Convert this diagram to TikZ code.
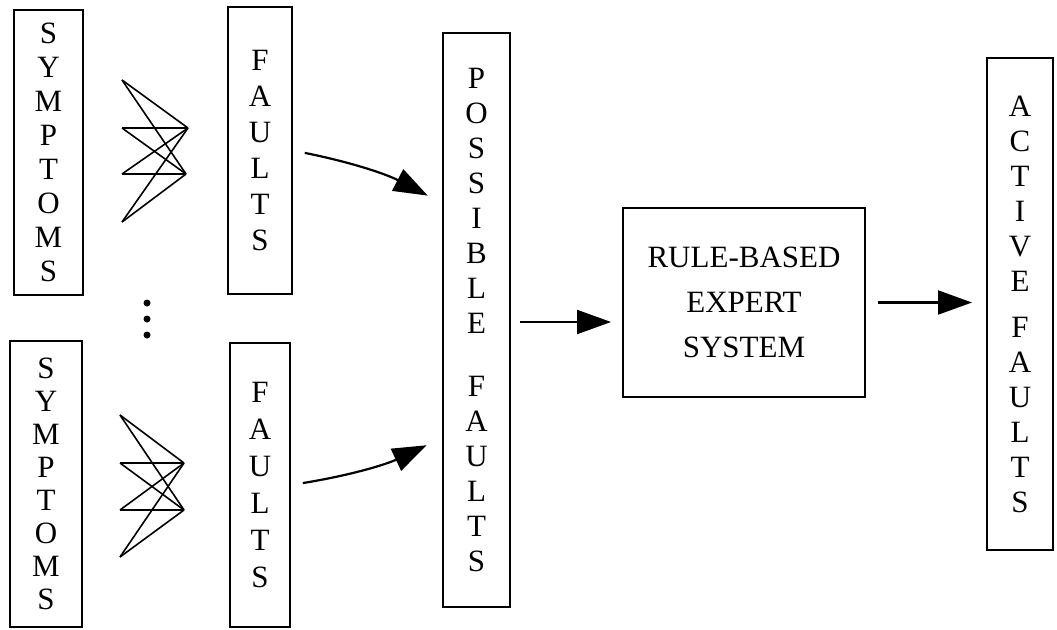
\documentclass[tikz,border=0pt]{standalone}
\usepackage{fontspec}
\setmainfont{Liberation Serif}
\usetikzlibrary{arrows.meta,calc}
\begin{document}
\begin{tikzpicture}[x=1pt,y=-1pt,
  box/.style={draw,line width=2pt,inner sep=0pt,align=center},
  vtxt/.style={font=\fontsize{31}{#1}\selectfont},
  web/.style={line width=1.6pt},
  arr/.style={line width=2.2pt,-{Triangle[length=34pt,width=24pt]}},
  dot/.style={circle,fill,inner sep=0pt,minimum size=7pt}]
\useasboundingbox (0,0) rectangle (1057,629);
% symptom boxes
\node[box,vtxt=34,minimum width=69pt,minimum height=285pt] (s1) at (48.5,152.5) {S\\Y\\M\\P\\T\\O\\M\\S};
\node[box,vtxt=33,minimum width=72pt,minimum height=286pt] (s2) at (46,484) {S\\Y\\M\\P\\T\\O\\M\\S};
% fault boxes
\node[box,vtxt=36,minimum width=64pt,minimum height=287pt] (f1) at (260,150.5) {F\\A\\U\\L\\T\\S};
\node[box,vtxt=37,minimum width=60pt,minimum height=284pt] (f2) at (260,485) {F\\A\\U\\L\\T\\S};
% possible faults
\node[box,vtxt=35,minimum width=67pt,minimum height=574pt] (p) at (476.5,320) {P\\O\\S\\S\\I\\B\\L\\E\\[28pt]F\\A\\U\\L\\T\\S};
% rule-based expert system
\node[box,font=\fontsize{31}{45}\selectfont,minimum width=242pt,minimum height=189pt] (r) at (744,302.5) {RULE-BASED\\EXPERT\\SYSTEM};
% active faults
\node[box,vtxt=35,minimum width=66pt,minimum height=492pt] (a) at (1020,304) {A\\C\\T\\I\\V\\E\\[11pt]F\\A\\U\\L\\T\\S};
% bipartite webs
\coordinate (ta1) at (122,80);  \coordinate (ta2) at (122,128);
\coordinate (ta3) at (122,174); \coordinate (ta4) at (122,222);
\coordinate (tb1) at (188,128); \coordinate (tb2) at (186,174);
\foreach \i in {1,2,3,4}{\foreach \j in {1,2}{\draw[web] (ta\i) -- (tb\j);}}
\coordinate (ba1) at (120,415); \coordinate (ba2) at (120,463);
\coordinate (ba3) at (120,510); \coordinate (ba4) at (120,557);
\coordinate (bb1) at (184,463); \coordinate (bb2) at (184,510);
\foreach \i in {1,2,3,4}{\foreach \j in {1,2}{\draw[web] (ba\i) -- (bb\j);}}
% dots
\node[dot] (d1) at (147,303) {};
\node[dot] (d2) at (147,319) {};
\node[dot] (d3) at (147,335) {};
% arrows
\draw[arr,shorten <=12pt,shorten >=16pt] (f1.east) to[bend left=8] ([yshift=117pt]p.west);
\draw[arr,shorten <=12pt,shorten >=17pt] (f2.east) to[bend right=8] ([yshift=-118pt]p.west);
\draw[arr,shorten <=9pt,shorten >=11pt] ([yshift=-2pt]p.east) -- ([yshift=-2pt]p.east -| r.west);
\draw[arr,shorten <=12pt,shorten >=14pt] (r.east) -- (r.east -| a.west);
\end{tikzpicture}
\end{document}
